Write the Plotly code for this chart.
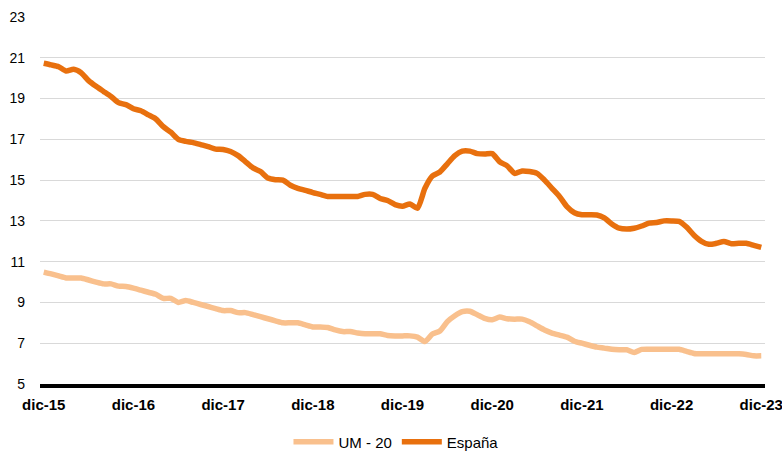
import plotly.graph_objects as go

meses = ["ene", "feb", "mar", "abr", "may", "jun", "jul", "ago", "sep", "oct", "nov", "dic"]
categorias = ["dic-15"] + [f"{meses[m]}-{y % 100:02d}" for y in range(2016, 2024) for m in range(12)]

espana = [20.73, 20.65, 20.56, 20.35, 20.44, 20.27, 19.88, 19.6, 19.35, 19.1,
          18.8, 18.7, 18.5, 18.4, 18.2, 18.0, 17.62, 17.35, 17.0, 16.9,
          16.84, 16.74, 16.64, 16.52, 16.5, 16.4, 16.2, 15.9, 15.6, 15.42,
          15.1, 15.02, 15.0, 14.75, 14.6, 14.5, 14.39, 14.3, 14.2, 14.2,
          14.2, 14.2, 14.2, 14.3, 14.3, 14.1, 14.0, 13.8, 13.72, 13.83,
          13.62, 14.6, 15.2, 15.4, 15.8, 16.2, 16.42, 16.42, 16.3, 16.28,
          16.3, 15.9, 15.7, 15.33, 15.45, 15.42, 15.33, 15.0, 14.6, 14.2,
          13.7, 13.4, 13.3, 13.3, 13.29, 13.15, 12.85, 12.64, 12.6, 12.64,
          12.75, 12.89, 12.92, 13.0, 13.0, 12.98, 12.7, 12.3, 12.0, 11.85,
          11.9, 11.99, 11.88, 11.9, 11.9, 11.8, 11.7]

um20 = [10.49, 10.4, 10.3, 10.2, 10.2, 10.2, 10.1, 10.0, 9.91, 9.91,
        9.8, 9.78, 9.7, 9.6, 9.5, 9.4, 9.2, 9.2, 9.0, 9.09,
        9.0, 8.9, 8.8, 8.7, 8.6, 8.6, 8.5, 8.5, 8.4, 8.3,
        8.2, 8.1, 8.0, 8.0, 8.0, 7.9, 7.8, 7.8, 7.77, 7.65,
        7.57, 7.57, 7.5, 7.46, 7.46, 7.46, 7.38, 7.36, 7.36, 7.36,
        7.3, 7.08, 7.45, 7.6, 8.06, 8.35, 8.55, 8.57, 8.4, 8.22,
        8.15, 8.28, 8.2, 8.18, 8.18, 8.05, 7.85, 7.65, 7.5, 7.4,
        7.3, 7.1, 7.0, 6.9, 6.81, 6.76, 6.7, 6.68, 6.68, 6.55,
        6.7, 6.71, 6.71, 6.71, 6.71, 6.7, 6.6, 6.5, 6.48, 6.48,
        6.48, 6.48, 6.48, 6.48, 6.45, 6.38, 6.38]

tick_labels = [c for c in categorias if c.startswith("dic")]
y_ticks = [5, 7, 9, 11, 13, 15, 17, 19, 21, 23]

FONT = "Liberation Sans, Arial, Helvetica, sans-serif"

fig = go.Figure()
fig.add_trace(go.Scatter(x=categorias, y=um20, name="UM - 20", mode="lines",
                         line=dict(color="#F9C08D", width=5.5, shape="spline", smoothing=0.6)))
fig.add_trace(go.Scatter(x=categorias, y=espana, name="España", mode="lines",
                         line=dict(color="#E8700E", width=5.5, shape="spline", smoothing=0.6)))

fig.update_layout(
    width=782, height=452,
    margin=dict(l=40, r=17, t=17, b=68, autoexpand=False),
    plot_bgcolor="white", paper_bgcolor="white",
    font=dict(family=FONT, size=14, color="#000000"),
    showlegend=True,
    legend=dict(orientation="h", x=0.491, xanchor="center", y=-0.158, yanchor="middle",
                font=dict(size=15), itemwidth=40),
    xaxis=dict(type="category", range=[-0.5, len(categorias) - 0.5],
               tickmode="array", tickvals=tick_labels, ticktext=tick_labels,
               tickfont=dict(size=15, family=FONT, weight="bold"),
               showgrid=False, showline=True, linecolor="black", linewidth=4,
               ticks="", ticklabelstandoff=4, automargin=False, fixedrange=True),
    yaxis=dict(range=[5, 23], tickvals=y_ticks, showgrid=True, gridcolor="#D9D9D9",
               gridwidth=1, zeroline=False, showline=False, ticks="",
               tickfont=dict(size=14), ticklabelstandoff=14, automargin=False,
               fixedrange=True),
)

# remove the page's default body margin so the 782x452 figure fills the window
fig.write_html("out.html",
               config={"displayModeBar": False, "staticPlot": True},
               post_script="document.body.style.margin='0';document.body.style.overflow='hidden';")
